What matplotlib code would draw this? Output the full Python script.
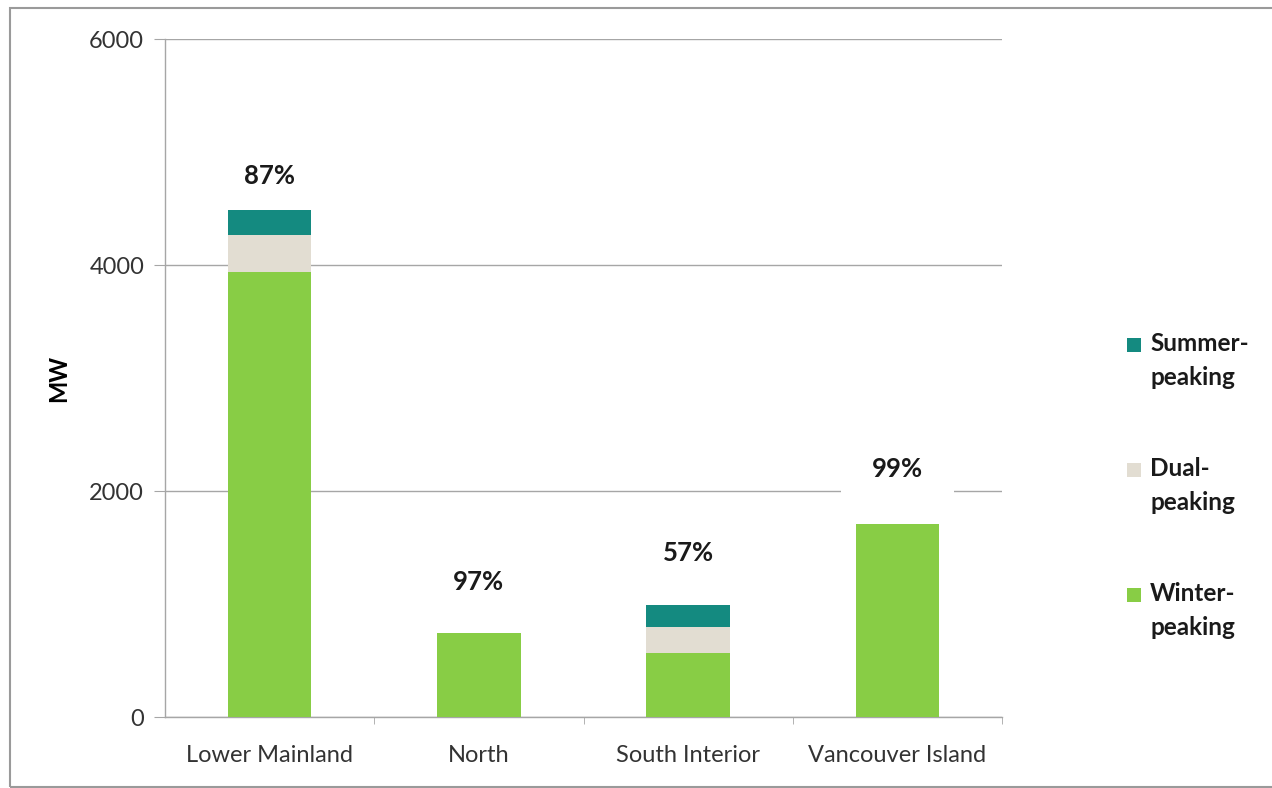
import matplotlib
matplotlib.use("Agg")
import matplotlib.pyplot as plt
from matplotlib.patches import Rectangle
import numpy as np

# --- data ---
regions = ["Lower Mainland", "North", "South Interior", "Vancouver Island"]
winter = [3940, 745, 565, 1710]
dual = [325, 0, 235, 0]
summer = [220, 0, 190, 0]
share_labels = ["87%", "97%", "57%", "99%"]
legend_labels = ["Summer-\npeaking", "Dual-\npeaking", "Winter-\npeaking"]
# --------------------------------

C_WINTER = "#88cd45"
C_DUAL = "#e2ddd2"
C_SUMMER = "#148a80"
GRID = "#a6a6a6"
W, H = 1272, 788

plt.rcParams["font.family"] = ["Lato", "DejaVu Sans"]

fig = plt.figure(figsize=(W / 100, H / 100), dpi=100)
ax = fig.add_axes([165 / W, 1 - 717 / H, (1002 - 165) / W, (717 - 39) / H])

x = np.arange(len(regions))
w = 0.40
winter = np.array(winter)
dual = np.array(dual)
summer = np.array(summer)

ax.bar(x, winter, w, color=C_WINTER, zorder=3)
ax.bar(x, dual, w, bottom=winter, color=C_DUAL, zorder=3)
ax.bar(x, summer, w, bottom=winter + dual, color=C_SUMMER, zorder=3)

# labels sit above the grid (white box hides it) but below the bars
tops = winter + dual + summer
offsets = [34, 51, 52, 55]
for xi, top, lab, off in zip(x, tops, share_labels, offsets):
    ax.annotate(lab, (xi, top), xytext=(0, off), textcoords="offset pixels",
                ha="center", va="center", fontsize=18.5, fontweight="bold",
                color="#1a1a1a", zorder=2,
                bbox=dict(boxstyle="square,pad=1.2", fc="white", ec="none"))

ax.set_xlim(-0.5, 3.5)
ax.set_ylim(0, 6000)
ax.set_yticks([0, 2000, 4000, 6000])
ax.set_xticks(x)
ax.set_xticklabels(regions)
ax.set_xticks([0.5, 1.5, 2.5, 3.5], minor=True)
ax.tick_params(axis="x", which="major", length=0, pad=20, labelsize=17, labelcolor="#333333")
ax.tick_params(axis="x", which="minor", length=5, color=GRID, direction="out")
ax.tick_params(axis="y", length=8, color=GRID, pad=7, labelsize=17, labelcolor="#333333")

ax.grid(axis="y", color=GRID, linewidth=1, zorder=0)
for side in ["top", "right"]:
    ax.spines[side].set_visible(False)
for side in ["left", "bottom"]:
    ax.spines[side].set_color(GRID)
    ax.spines[side].set_linewidth(1)

ax.set_ylabel("MW", fontsize=17, fontweight="bold", labelpad=14)

# legend drawn by hand: swatch lines up with the first text line
legend_colors = [C_SUMMER, C_DUAL, C_WINTER]
for i, (lab, col) in enumerate(zip(legend_labels, legend_colors)):
    y_top = 336 + i * 125
    fig.patches.append(Rectangle((1127 / W, 1 - (y_top + 16) / H), 14 / W, 14 / H,
                                 transform=fig.transFigure, fc=col, ec="none"))
    fig.text(1150 / W, 1 - (y_top - 4) / H, lab, ha="left", va="top",
             fontsize=17.5, fontweight="bold", color="#1a1a1a", linespacing=1.6)

# outer frame like the pasted chart area
fig.patches.append(Rectangle((10 / W, 1 / H), 1.0, 779 / H,
                             transform=fig.transFigure, fill=False,
                             ec="#9a9a9a", lw=1.5))

fig.savefig("out.png", dpi=100)
